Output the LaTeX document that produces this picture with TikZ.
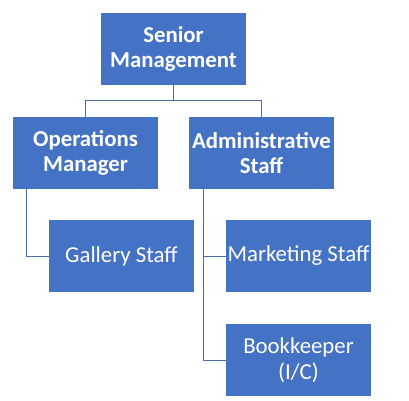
\documentclass[tikz,border=0pt]{standalone}
\usepackage{fontspec}
\setmainfont{Carlito}
\definecolor{boxblue}{HTML}{4472C4}
\definecolor{lineblue}{HTML}{4A6DA8}
\begin{document}
\begin{tikzpicture}[x=1pt,y=-1pt,
  box/.style={fill=boxblue,draw=none,minimum width=145pt,minimum height=72pt,inner sep=0pt,text=white,align=center,font=\fontsize{22.8}{25.5}\selectfont},
  topbox/.style={box,font=\fontsize{22.8}{25.5}\selectfont\bfseries},
  conn/.style={draw=lineblue,line width=0.9pt}]
\useasboundingbox (0,0) rectangle (409,400);
\node[topbox] (sm) at (173.5,49) {Senior\\Management};
\node[topbox] (om) at (85.5,153) {Operations\\Manager};
\node[topbox] (as) at (261.5,153) {Administrative\\Staff};
\node[box] (gs) at (121.5,256) {Gallery Staff};
\node[box] (ms) at (298.5,256) {Marketing Staff};
\node[box] (bk) at (298.5,360) {Bookkeeper\\(I/C)};
\coordinate (omspine) at (26,189);
\coordinate (asspine) at (203,189);
\draw[conn] (sm.south) -- ++(0,15) -| (om.north);
\draw[conn] (sm.south) -- ++(0,15) -| (as.north);
\draw[conn] (omspine) |- (gs.west);
\draw[conn] (asspine) |- (ms.west);
\draw[conn] (asspine) |- (bk.west);
\end{tikzpicture}
\end{document}
